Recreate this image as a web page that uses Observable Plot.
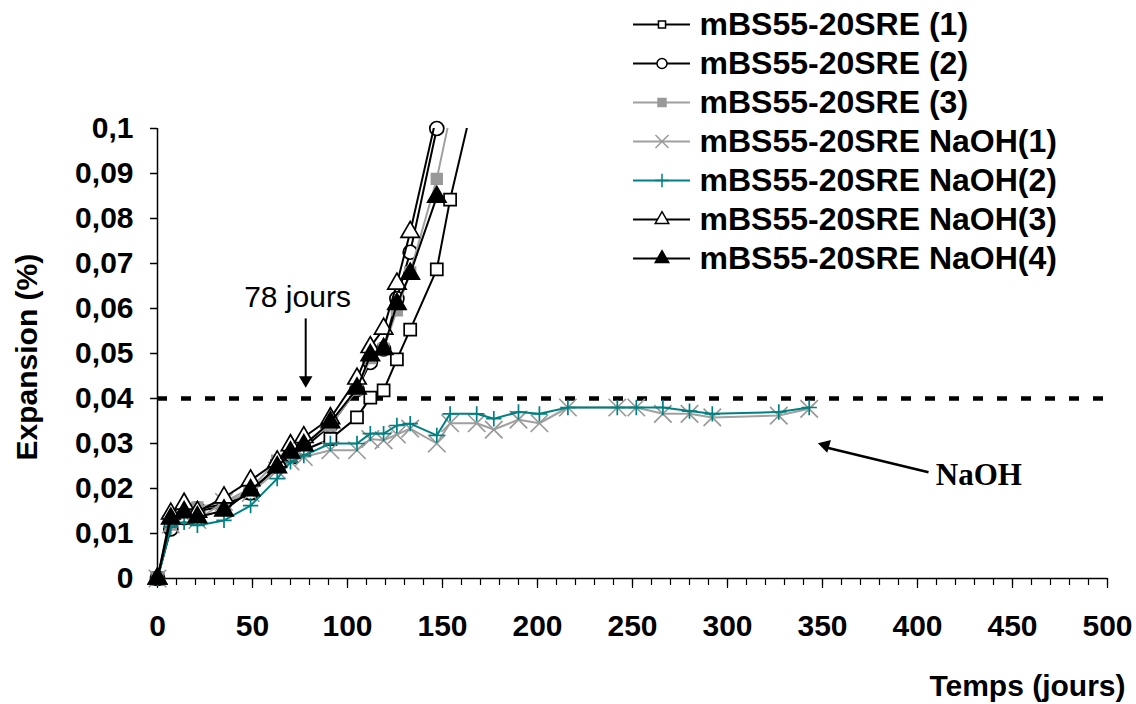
<!DOCTYPE html>
<html><head><meta charset="utf-8">
<script src="https://cdn.jsdelivr.net/npm/d3@7"></script>
<script src="https://cdn.jsdelivr.net/npm/@observablehq/plot@0.6"></script>
<style>
body{margin:0;background:#fff}
#wrap{position:relative;width:1136px;height:704px;overflow:hidden}
#legend{position:absolute;left:633px;top:0}
</style>
</head><body><div id="wrap"><div id="main"></div><div id="legend"></div></div>
<script>
// ---- data ----
const seriesNames = ["mBS55-20SRE (1)","mBS55-20SRE (2)","mBS55-20SRE (3)","mBS55-20SRE NaOH(1)","mBS55-20SRE NaOH(2)","mBS55-20SRE NaOH(3)","mBS55-20SRE NaOH(4)"];

const daysS1 = [0,7,14,21,35,49,63,70,77,91,105,112,119,126,133,147,154,168];
const valS1  = [0,0.012,0.0135,0.015,0.016,0.019,0.025,0.027,0.0285,0.031,0.0358,0.0402,0.0418,0.0487,0.0553,0.0687,0.0842,0.1094];

const daysS2 = [0,7,14,21,35,49,63,70,77,91,105,112,119,126,133,147,154];
const valS2  = [0,0.011,0.0135,0.0155,0.0165,0.019,0.025,0.0275,0.029,0.034,0.042,0.048,0.051,0.0622,0.0725,0.1,0.135];

const daysS3 = [0,7,14,21,35,49,63,70,77,91,105,112,119,126,133,147,154];
const valS3  = [0,0.012,0.015,0.0158,0.017,0.02,0.0262,0.028,0.03,0.034,0.042,0.049,0.051,0.0596,0.068,0.0888,0.1028];

const daysN12 = [0,7,14,21,35,49,63,70,77,91,105,112,119,126,133,147,154,168,177,190,201,216,242,252,266,280,292,327,343];
const valN1 = [0,0.012,0.014,0.013,0.017,0.019,0.024,0.026,0.027,0.0285,0.0285,0.031,0.0307,0.032,0.0333,0.030,0.0345,0.0345,0.0331,0.0353,0.0345,0.038,0.038,0.038,0.0366,0.0366,0.0358,0.0362,0.0377];
const valN2 = [0,0.0114,0.0125,0.0118,0.0129,0.0162,0.0222,0.0259,0.0273,0.030,0.030,0.0322,0.0322,0.034,0.0344,0.0318,0.0366,0.0366,0.0355,0.037,0.0366,0.038,0.038,0.038,0.038,0.0372,0.0366,0.037,0.038];

const daysN34 = [0,7,14,21,35,49,63,70,77,91,105,112,119,126,133,147];
const valN3 = [0,0.0144,0.0166,0.0148,0.018,0.0218,0.026,0.0296,0.0314,0.0356,0.0444,0.0514,0.0555,0.0655,0.077,0.103];
const valN4 = [0,0.0133,0.0147,0.0136,0.0151,0.0196,0.0247,0.028,0.0296,0.0347,0.0422,0.0496,0.051,0.061,0.0677,0.0848];

const yTicks = [0,0.01,0.02,0.03,0.04,0.05,0.06,0.07,0.08,0.09,0.1];
const yTickLabels = ["0","0,01","0,02","0,03","0,04","0,05","0,06","0,07","0,08","0,09","0,1"];
const xTicks = [0,50,100,150,200,250,300,350,400,450,500];
const xMinorTicks = d3.range(0, 501, 10);
const threshold = 0.04;
const markDay = 78;
const yMax = 0.1;

// ---- styles ----
const styles = [
  {symbol:"square",   r:6.8, fill:"white", stroke:"black", line:"black", lr:4},
  {symbol:"circle",   r:7,   fill:"white", stroke:"black", line:"black", lr:5},
  {symbol:"square",   r:6,   fill:"#999999", stroke:"#999999", line:"#a0a0a0", lr:4.5},
  {symbol:"times",    r:8,   fill:"none",  stroke:"#999999", line:"#a0a0a0", lr:6},
  {symbol:"plus",     r:5,   fill:"none",  stroke:"#008080", line:"#008080", lr:4.5},
  {symbol:"triangle", r:6.8, fill:"white", stroke:"black", line:"black", lr:5},
  {symbol:"triangle", r:6.8, fill:"black", stroke:"black", line:"black", lr:5}
];

const seriesData = [
  [daysS1, valS1],[daysS2, valS2],[daysS3, valS3],
  [daysN12, valN1],[daysN12, valN2],[daysN34, valN3],[daysN34, valN4]
].map(([d, v], k) => d.map((day, i) => ({name: seriesNames[k], day, value: v[i]})));

const dataMarks = [];
seriesData.forEach((rows, k) => {
  const s = styles[k];
  dataMarks.push(Plot.line(rows, {x:"day", y:"value", stroke:s.line, strokeWidth:2, clip:true}));
  dataMarks.push(Plot.dot(rows.filter(r => r.value <= yMax + 1e-9), {x:"day", y:"value", symbol:()=>s.symbol, r:s.r, fill:s.fill, stroke:s.stroke, strokeWidth:1.7}));
});

const font = "'Liberation Sans', Arial, sans-serif";

const main = Plot.plot({
  width:1136, height:704,
  marginTop:128, marginBottom:126, marginLeft:157, marginRight:29,
  x:{domain:[0,500]},
  y:{domain:[0,yMax]},
  symbol:{type:"identity"},
  style:{fontFamily:font, fontSize:"30px", fontWeight:"bold", color:"#000", background:"#fff", overflow:"visible"},
  marks:[
    Plot.ruleY([threshold], {stroke:"black", strokeWidth:4.5, strokeDasharray:"10,14"}),
    Plot.ruleX([0], {stroke:"black", strokeWidth:1.5}),
    Plot.ruleY([0], {stroke:"black", strokeWidth:1.5}),
    Plot.axisY(yTicks, {tickSize:7, tickPadding:17, tickFormat:d => yTickLabels[yTicks.indexOf(d)], label:null, strokeWidth:1.5}),
    Plot.axisX(xMinorTicks, {tickSize:7, tickFormat:() => "", label:null, strokeWidth:1.2}),
    Plot.axisX(xTicks, {tickSize:10, tickPadding:26, tickFormat:d => String(d), label:null, strokeWidth:1.2}),
    ...dataMarks,
    Plot.text(["Expansion (%)"], {x:-68.5, y:0.0492, rotate:-90, fontSize:30, fontWeight:"bold"}),
    Plot.text(["Temps (jours)"], {x:509.5, y:-0.0240, textAnchor:"end", fontSize:30, fontWeight:"bold"}),
    Plot.text(["78 jours"], {x:73.7, y:0.0624, fontSize:30, fontWeight:"normal"}),
    Plot.link([markDay], {x1:d=>d, x2:d=>d, y1:0.0578, y2:0.0435, stroke:"black", strokeWidth:2}),
    Plot.dot([markDay], {x:d=>d, y:0.0441, symbol:"triangle", r:5, fill:"black", stroke:"none", rotate:180}),
    Plot.link([0], {x1:405.8, y1:0.0236, x2:352, y2:0.0291, stroke:"black", strokeWidth:2.5}),
    Plot.dot([0], {x:351.5, y:0.0296, symbol:"triangle", r:5, fill:"black", stroke:"none", rotate:-74}),
    Plot.text(["NaOH"], {x:432.3, y:0.0229, fontFamily:"'Liberation Serif', 'Times New Roman', serif", fontSize:31, fontWeight:"bold"})
  ]
});
document.getElementById("main").appendChild(main);

const legend = Plot.plot({
  width:503, height:290,
  marginTop:0, marginBottom:0, marginLeft:0, marginRight:0,
  x:{domain:[0,1], range:[0,57], axis:null},
  y:{type:"point", domain:seriesNames, range:[21.7,260], padding:0, axis:null},
  symbol:{type:"identity"},
  style:{fontFamily:font, fontSize:"32px", fontWeight:"bold", color:"#000", background:"transparent", overflow:"visible"},
  marks:[
    ...seriesNames.map((n, k) => Plot.ruleY([n], {y:d=>d, x1:0, x2:1, stroke:styles[k].line, strokeWidth:2})),
    ...seriesNames.map((n, k) => Plot.dot([n], {x:0.5, y:d=>d, symbol:()=>styles[k].symbol, r:styles[k].lr, fill:styles[k].fill, stroke:styles[k].stroke, strokeWidth:1.5})),
    Plot.text(seriesNames, {x:1, y:d=>d, dx:9, textAnchor:"start", fontSize:32, fontWeight:"bold"})
  ]
});
document.getElementById("legend").appendChild(legend);
</script>
</body></html>
